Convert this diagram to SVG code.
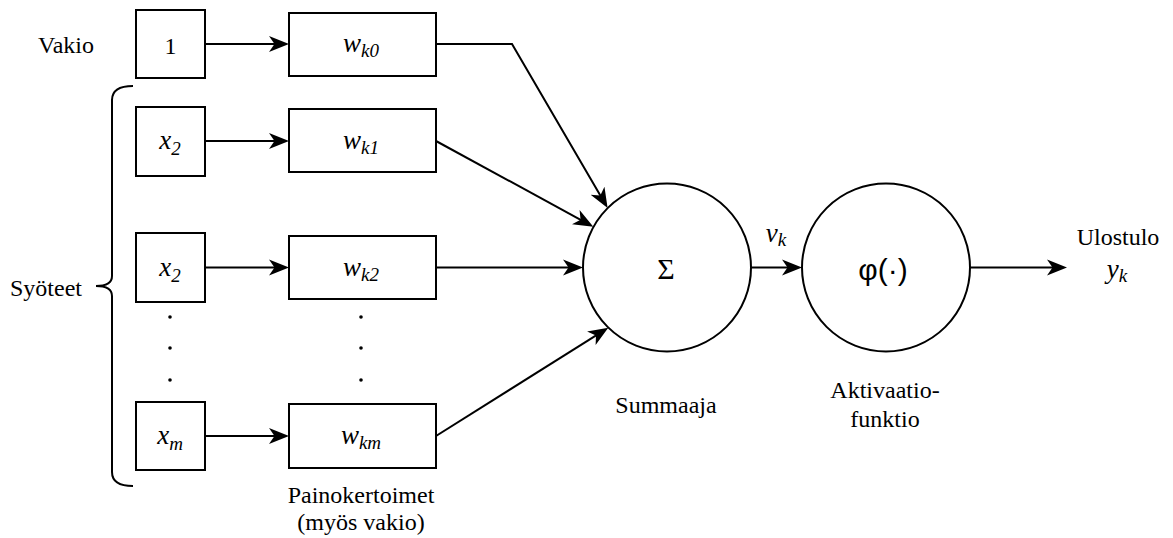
<svg xmlns="http://www.w3.org/2000/svg" width="1173" height="538" viewBox="0 0 1173 538">
<style>
.box{fill:#fff;stroke:#000;stroke-width:2}
.circ{fill:#fff;stroke:#000;stroke-width:2}
.edge{fill:none;stroke:#000;stroke-width:2}
.lbl{font-family:"Liberation Serif","Times New Roman",serif;font-size:24px;fill:#000}
.math{font-family:"Liberation Serif","Times New Roman",serif;font-size:27px;font-style:italic;fill:#000}
.sub{font-size:19px}
.sans{font-family:"Liberation Sans",Arial,sans-serif;font-size:30px;fill:#000}
.sigma{font-family:"Liberation Serif","Times New Roman",serif;font-size:30px;fill:#000}
.dot{fill:#000}
</style>
<defs>
<marker id="arr" markerUnits="userSpaceOnUse" markerWidth="22" markerHeight="18" refX="16" refY="9" orient="auto">
<path d="M20,9 L0,1 L5.5,9 L0,17 Z" fill="#000"/>
</marker>
</defs>
<rect width="1173" height="538" fill="#fff"/>
<g id="connectors">
<path class="edge" marker-end="url(#arr)" d="M205,44 L285,44"/>
<path class="edge" marker-end="url(#arr)" d="M205,141 L285,141"/>
<path class="edge" marker-end="url(#arr)" d="M205,267.5 L285,267.5"/>
<path class="edge" marker-end="url(#arr)" d="M205,436 L285,436"/>
<path class="edge" marker-end="url(#arr)" d="M436,44 L512,44 L605.6,204.6"/>
<path class="edge" marker-end="url(#arr)" d="M436,141 L589.8,224.8"/>
<path class="edge" marker-end="url(#arr)" d="M436,267.5 L579,267.5"/>
<path class="edge" marker-end="url(#arr)" d="M436,436 L604.9,329.8"/>
<path class="edge" marker-end="url(#arr)" d="M751,267.5 L798,267.5"/>
<path class="edge" marker-end="url(#arr)" d="M970,267.5 L1063,267.5"/>
</g>
<g id="label-vakio"><text class="lbl" x="38" y="53">Vakio</text></g>
<g id="node-1"><rect class="box" x="136" y="10" width="69" height="68"/><text class="lbl" x="170.5" y="54" text-anchor="middle">1</text></g>
<g id="node-x2a"><rect class="box" x="136" y="107" width="69" height="69"/><text class="math" x="170" y="149" text-anchor="middle">x<tspan class="sub" dy="6">2</tspan></text></g>
<g id="node-x2b"><rect class="box" x="136" y="233" width="69" height="69"/><text class="math" x="170" y="275.5" text-anchor="middle">x<tspan class="sub" dy="6">2</tspan></text></g>
<g id="node-xm"><rect class="box" x="136" y="402" width="69" height="68"/><text class="math" x="170" y="444" text-anchor="middle">x<tspan class="sub" dy="6">m</tspan></text></g>
<g id="node-wk0"><rect class="box" x="289" y="13" width="147" height="63"/><text class="math" x="361" y="52" text-anchor="middle">w<tspan class="sub" dy="5">k0</tspan></text></g>
<g id="node-wk1"><rect class="box" x="289" y="109" width="147" height="63"/><text class="math" x="361" y="149" text-anchor="middle">w<tspan class="sub" dy="5">k1</tspan></text></g>
<g id="node-wk2"><rect class="box" x="289" y="236" width="147" height="63"/><text class="math" x="361" y="275.5" text-anchor="middle">w<tspan class="sub" dy="5">k2</tspan></text></g>
<g id="node-wkm"><rect class="box" x="289" y="404" width="147" height="64"/><text class="math" x="361" y="444" text-anchor="middle">w<tspan class="sub" dy="5">km</tspan></text></g>
<g id="dots">
<circle class="dot" cx="170" cy="317" r="1.8"/><circle class="dot" cx="170" cy="348" r="1.8"/><circle class="dot" cx="170" cy="380" r="1.8"/>
<circle class="dot" cx="361" cy="317" r="1.8"/><circle class="dot" cx="361" cy="348" r="1.8"/><circle class="dot" cx="361" cy="380" r="1.8"/>
</g>
<g id="brace-syoteet">
<path class="edge" d="M133,86 Q112,86 112,100 L112,276 Q112,286 96,286 Q112,286 112,296 L112,472 Q112,486 133,486"/>
<text class="lbl" x="10" y="296">Syöteet</text>
</g>
<g id="label-paino"><text class="lbl" x="361" y="503" text-anchor="middle">Painokertoimet</text><text class="lbl" x="361" y="530" text-anchor="middle">(myös vakio)</text></g>
<g id="node-sum"><circle class="circ" cx="667" cy="267.5" r="84"/><text class="sigma" x="666" y="279" text-anchor="middle">Σ</text></g>
<g id="label-summaaja"><text class="lbl" x="666" y="413" text-anchor="middle">Summaaja</text></g>
<g id="label-vk"><text class="math" x="776" y="242" text-anchor="middle">v<tspan class="sub" dy="4">k</tspan></text></g>
<g id="node-phi"><circle class="circ" cx="886" cy="267.5" r="84"/><text class="sans" x="883" y="280" text-anchor="middle">φ(·)</text></g>
<g id="label-akt"><text class="lbl" x="885" y="398" text-anchor="middle">Aktivaatio-</text><text class="lbl" x="885" y="427" text-anchor="middle">funktio</text></g>
<g id="label-out"><text class="lbl" x="1118" y="245" text-anchor="middle">Ulostulo</text><text class="math" x="1117" y="278" text-anchor="middle">y<tspan class="sub" dy="4">k</tspan></text></g>
</svg>
